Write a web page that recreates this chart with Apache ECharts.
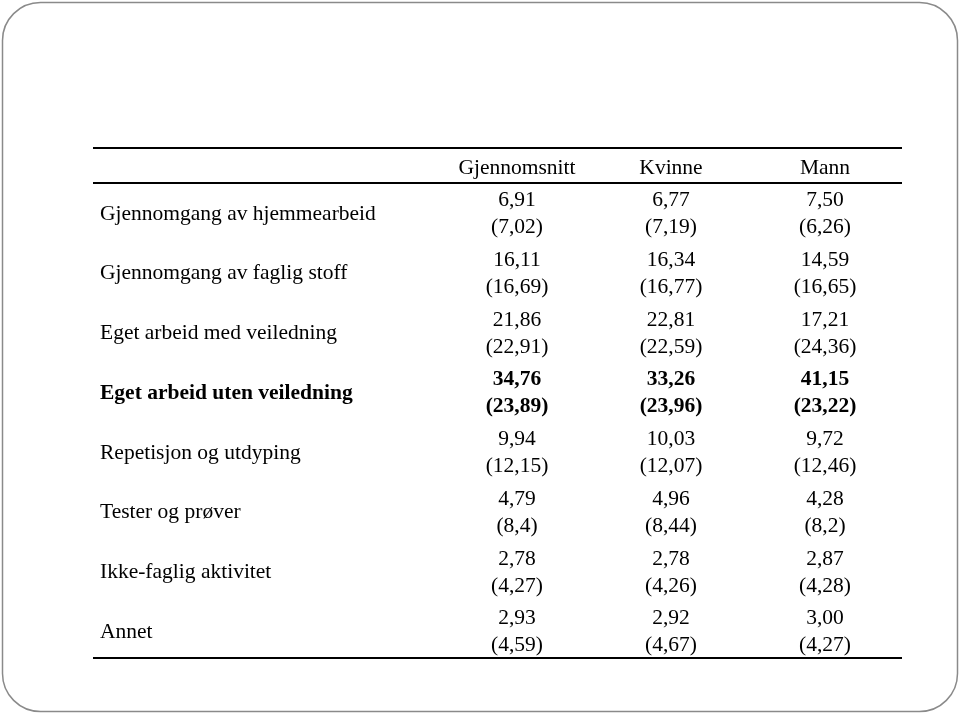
<!DOCTYPE html>
<html>
<head>
<meta charset="utf-8">
<script src="https://cdn.jsdelivr.net/npm/echarts@6/dist/echarts.min.js"></script>
<style>html,body{margin:0;padding:0;background:#fff;}#c{width:960px;height:714px;}</style>
</head>
<body>
<div id="c"></div>
<script>
var columns = ['Gjennomsnitt', 'Kvinne', 'Mann'];
var rowLabels = [
  'Gjennomgang av hjemmearbeid',
  'Gjennomgang av faglig stoff',
  'Eget arbeid med veiledning',
  'Eget arbeid uten veiledning',
  'Repetisjon og utdyping',
  'Tester og prøver',
  'Ikke-faglig aktivitet',
  'Annet'
];
var boldRow = 3;
var meanAll = [6.91, 16.11, 21.86, 34.76, 9.94, 4.79, 2.78, 2.93];
var sdAll   = [7.02, 16.69, 22.91, 23.89, 12.15, 8.4, 4.27, 4.59];
var meanKvinne = [6.77, 16.34, 22.81, 33.26, 10.03, 4.96, 2.78, 2.92];
var sdKvinne   = [7.19, 16.77, 22.59, 23.96, 12.07, 8.44, 4.26, 4.67];
var meanMann = [7.50, 14.59, 17.21, 41.15, 9.72, 4.28, 2.87, 3.00];
var sdMann   = [6.26, 16.65, 24.36, 23.22, 12.46, 8.2, 4.28, 4.27];

var FONT = 'Liberation Serif';
var FS = 21.5;
var LH = 27;

function fmtMean(v) { return v.toFixed(2).replace('.', ','); }
function fmtSd(v) { return '(' + String(v).replace('.', ',') + ')'; }

function buildSeries(name, colIdx, means, sds) {
  var data = means.map(function (m, i) { return [colIdx, i, m, sds[i]]; });
  return {
    name: name,
    type: 'scatter',
    data: data,
    encode: { x: 0, y: 1 },
    symbolSize: 1,
    itemStyle: { color: 'rgba(0,0,0,0)', opacity: 1 },
    silent: true,
    label: {
      show: true,
      position: 'inside',
      fontFamily: FONT,
      fontSize: FS,
      lineHeight: LH,
      color: '#000',
      opacity: 1,
      textBorderWidth: 0,
      align: 'center',
      verticalAlign: 'middle',
      formatter: function (p) {
        var a = fmtMean(p.data[2]), b = fmtSd(p.data[3]);
        if (p.data[1] === boldRow) return '{b|' + a + '}\n{b|' + b + '}';
        return '{n|' + a + '}\n{n|' + b + '}';
      },
      rich: {
        n: { fontFamily: FONT, fontSize: FS, lineHeight: LH, color: '#000' },
        b: { fontFamily: FONT, fontSize: FS, lineHeight: LH, color: '#000', fontWeight: 'bold' }
      }
    }
  };
}

var chart = echarts.init(document.getElementById('c'), null, { renderer: 'canvas' });
chart.setOption({
  animation: false,
  backgroundColor: '#fff',
  grid: { left: 440, right: 58, top: 184, bottom: 52 },
  xAxis: {
    type: 'category',
    position: 'top',
    data: columns,
    axisLine: { show: false },
    axisTick: { show: false },
    splitLine: { show: false },
    axisLabel: { margin: 5, fontFamily: FONT, fontSize: FS, color: '#000' }
  },
  yAxis: {
    type: 'category',
    inverse: true,
    data: rowLabels,
    axisLine: { show: false },
    axisTick: { show: false },
    splitLine: { show: false },
    axisLabel: {
      margin: 340,
      align: 'left',
      fontFamily: FONT,
      fontSize: FS,
      color: '#000',
      formatter: function (v, i) {
        return i === boldRow ? '{b|' + v + '}' : '{n|' + v + '}';
      },
      rich: {
        n: { fontFamily: FONT, fontSize: FS, color: '#000' },
        b: { fontFamily: FONT, fontSize: FS, color: '#000', fontWeight: 'bold' }
      }
    }
  },
  graphic: [
    { type: 'rect', shape: { x: 2.5, y: 2.5, width: 955, height: 709, r: 38 },
      style: { fill: 'none', stroke: '#8a8a8a', lineWidth: 1.5 }, silent: true },
    { type: 'line', shape: { x1: 93, y1: 148, x2: 902, y2: 148 }, style: { stroke: '#000', lineWidth: 2 } },
    { type: 'line', shape: { x1: 93, y1: 183, x2: 902, y2: 183 }, style: { stroke: '#000', lineWidth: 2 } },
    { type: 'line', shape: { x1: 93, y1: 658, x2: 902, y2: 658 }, style: { stroke: '#000', lineWidth: 2 } }
  ],
  series: [
    buildSeries(columns[0], 0, meanAll, sdAll),
    buildSeries(columns[1], 1, meanKvinne, sdKvinne),
    buildSeries(columns[2], 2, meanMann, sdMann)
  ]
});
</script>
</body>
</html>
